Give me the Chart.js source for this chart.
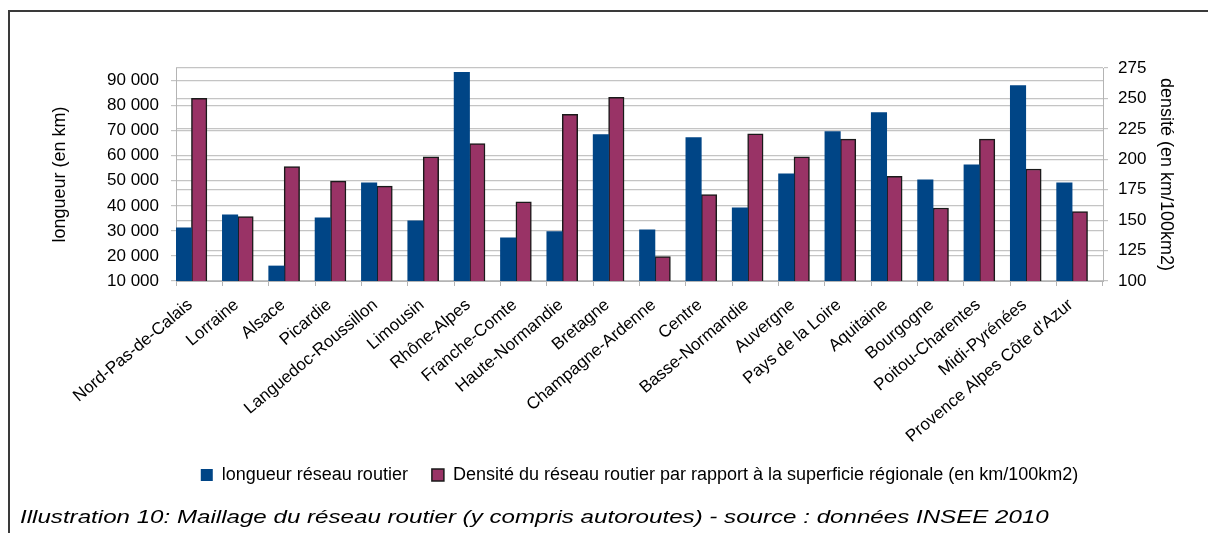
<!DOCTYPE html>
<html>
<head>
<meta charset="utf-8">
<script src="https://cdn.jsdelivr.net/npm/chart.js@4/dist/chart.umd.min.js"></script>
<style>
  html, body { margin: 0; padding: 0; background: #fff; }
  #wrap { position: relative; width: 1208px; height: 533px; overflow: hidden; background: #fff; }
  #frame { position: absolute; left: 8px; top: 10px; right: -4px; bottom: -4px;
           border-left: 2px solid #3a3a3a; border-top: 2px solid #3a3a3a; }
  #c { position: absolute; left: 0; top: 0; }
  #caption { position: absolute; left: 20px; top: 506px; white-space: nowrap; color: #000;
             font: italic 19px "Liberation Sans", Arial, sans-serif;
             transform: scaleX(1.27); transform-origin: 0 0; }
</style>
</head>
<body>
<div id="wrap">
  <div id="frame"></div>
  <canvas id="c" width="1208" height="533"></canvas>
  <div id="caption">Illustration 10: Maillage du réseau routier (y compris autoroutes) - source : données INSEE 2010</div>
</div>
<script>
// Regions (categories)
const regions = [
  'Nord-Pas-de-Calais', 'Lorraine', 'Alsace', 'Picardie', 'Languedoc-Roussillon',
  'Limousin', 'Rhône-Alpes', 'Franche-Comte', 'Haute-Normandie', 'Bretagne',
  'Champagne-Ardenne', 'Centre', 'Basse-Normandie', 'Auvergne', 'Pays de la Loire',
  'Aquitaine', 'Bourgogne', 'Poitou-Charentes', 'Midi-Pyrénées', 'Provence Alpes Côte d\'Azur'
];

// Road network length (km) — left axis
const longueur = [
  31200, 36400, 16000, 35200, 49200,
  34000, 93300, 27200, 29700, 68400,
  30400, 67200, 39200, 52800, 69600,
  77200, 50400, 56400, 88000, 49200
];

// Network density (km / 100 km2) — right axis
const densite = [
  250, 153, 194, 182, 178,
  202, 213, 165, 237, 251,
  120, 171, 221, 202, 216.5,
  186, 160, 216.5, 192, 157
];

// Empty third slot in each group, leaves the gap after each pair of bars
const emptySlot = [null, null, null, null, null, null, null, null, null, null,
                   null, null, null, null, null, null, null, null, null, null];

// Tick values of both value axes
const lengthTicks = [10000, 20000, 30000, 40000, 50000, 60000, 70000, 80000, 90000];
const densityTicks = [100, 125, 150, 175, 200, 225, 250, 275];
const lengthRange = { min: 10000, max: 95000 };
const densityRange = { min: 100, max: 275 };

const FAMILY = '"Liberation Sans", Arial, sans-serif';
const tickFont = { family: FAMILY, size: 17 };
const titleFont = { family: FAMILY, size: 18 };
const legendFont = { family: FAMILY, size: 18 };
const gridColor = '#c4c4c4';
const axisColor = '#b4b4b4';

const thousands = v => String(v).replace(/\B(?=(\d{3})+(?!\d))/g, ' ');
const useTicks = list => scale => { scale.ticks = list.map(v => ({ value: v })); };

new Chart(document.getElementById('c'), {
  type: 'bar',
  data: {
    labels: regions,
    datasets: [
      {
        label: 'longueur réseau routier',
        data: longueur,
        yAxisID: 'y',
        backgroundColor: '#004586',
        borderWidth: 0,
        categoryPercentage: 1.0,
        barPercentage: 1.0
      },
      {
        label: 'Densité du réseau routier par rapport à la superficie régionale (en km/100km2)',
        data: densite,
        yAxisID: 'y1',
        backgroundColor: '#993366',
        borderColor: '#1a1a1a',
        borderWidth: 1.5,
        categoryPercentage: 1.0,
        barPercentage: 1.0
      },
      {
        label: '',
        data: emptySlot,
        yAxisID: 'y',
        categoryPercentage: 1.0,
        barPercentage: 1.0
      }
    ]
  },
  options: {
    responsive: false,
    animation: false,
    devicePixelRatio: 1,
    layout: { padding: { left: 45, right: 27, top: 68, bottom: 39 } },
    plugins: {
      tooltip: { enabled: false },
      legend: {
        position: 'bottom',
        fullSize: false,
        labels: {
          font: legendFont,
          color: '#000',
          boxWidth: 12,
          boxHeight: 12,
          padding: 24,
          filter: item => item.datasetIndex < 2
        }
      }
    },
    scales: {
      x: {
        grid: { offset: true, drawOnChartArea: false, drawTicks: true, tickLength: 5, color: axisColor },
        border: { color: axisColor },
        ticks: {
          autoSkip: false, minRotation: 40, maxRotation: 40,
          labelOffset: -9, padding: 9, font: tickFont, color: '#000'
        },
        afterFit: s => { s.height = 161; }
      },
      y: {
        position: 'left',
        min: lengthRange.min,
        max: lengthRange.max,
        afterBuildTicks: useTicks(lengthTicks),
        ticks: { padding: 12, font: tickFont, color: '#000', callback: v => thousands(v) },
        grid: { color: gridColor, lineWidth: 1.2, tickLength: 5 },
        border: { color: axisColor },
        title: { display: true, text: 'longueur (en km)', font: titleFont, color: '#000', padding: { top: 4, bottom: 4 } },
        afterFit: s => { s.width = 131; }
      },
      y1: {
        position: 'right',
        min: densityRange.min,
        max: densityRange.max,
        afterBuildTicks: useTicks(densityTicks),
        ticks: { padding: 10, font: tickFont, color: '#000' },
        grid: { color: gridColor, lineWidth: 1.2, tickLength: 5 },
        border: { color: axisColor },
        title: { display: true, text: 'densité (en km/100km2)', font: titleFont, color: '#000', padding: { top: 4, bottom: 4 } },
        afterFit: s => { s.width = 78; }
      }
    }
  }
});
</script>
</body>
</html>
